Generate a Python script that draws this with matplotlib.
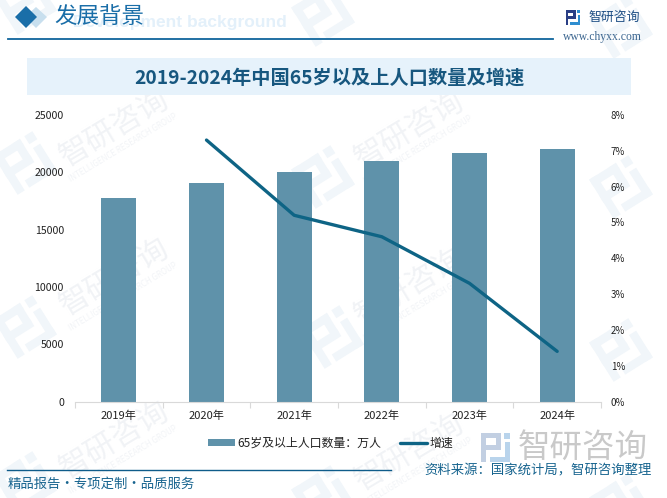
import matplotlib
matplotlib.use("Agg")
import matplotlib.pyplot as plt
from matplotlib.patches import Rectangle, Polygon
from matplotlib.transforms import Affine2D

plt.rcParams['font.family'] = ['Noto Sans CJK SC', 'DejaVu Sans']

years = ['2019年', '2020年', '2021年', '2022年', '2023年', '2024年']
population = [17767, 19064, 20056, 20978, 21676, 22023]
growth_years = [1, 2, 3, 4, 5]
growth = [7.3, 5.2, 4.6, 3.3, 1.4]
left_ticks = [0, 5000, 10000, 15000, 20000, 25000]
right_ticks = [0, 1, 2, 3, 4, 5, 6, 7, 8]
title = '2019-2024年中国65岁以及上人口数量及增速'

W, H = 667, 498
fig = plt.figure(figsize=(W/100, H/100), dpi=100, facecolor='white')
bg = fig.add_axes([0, 0, 1, 1], zorder=0)
bg.set_xlim(0, W); bg.set_ylim(H, 0); bg.axis('off')

def logo(cx, cy, s=1.0, c1='#f1f6fa', c2=None, angle=-32, z=1):
    c2 = c2 or c1
    tr = Affine2D().scale(s).rotate_deg(angle).translate(cx, cy) + bg.transData
    for x, y, w, h in [(-22, -22, 30, 8), (-22, -22, 8, 44), (0, -22, 8, 22), (-22, -4, 30, 8)]:
        bg.add_patch(Rectangle((x, y), w, h, transform=tr, color=c1, lw=0, zorder=z))
    for x, y, w, h in [(13, -22, 9, 9), (14, -8, 8, 30), (-9, 14, 31, 8)]:
        bg.add_patch(Rectangle((x, y), w, h, transform=tr, color=c2, lw=0, zorder=z))

def mark(cx, cy):
    bg.text(cx, cy, '智研咨询', fontsize=22, color='#f1f3f6', rotation=31,
            ha='center', va='center', rotation_mode='anchor', zorder=1)
    bg.text(cx + 8, cy + 20, 'INTELLIGENCE RESEARCH GROUP', fontsize=5.8, color='#f2f4f7',
            rotation=31, ha='center', va='center', rotation_mode='anchor', zorder=1)

for c in [(115, 128), (410, 130), (115, 277), (410, 287), (115, 440), (410, 452)]:
    mark(*c)
for c in [(25, 3), (323, 15), (621, 27), (25, 163), (323, 177), (621, 187),
          (25, 327), (332, 337), (621, 350), (25, 483), (323, 497), (621, 505)]:
    logo(*c, s=1.05)

# header
bg.add_patch(Polygon([(36, 7), (47, 17), (36, 28), (25, 17)], color='#c8dfee', lw=0, zorder=2))
bg.add_patch(Polygon([(26, 6), (37, 17), (26, 28), (15, 17)], color='#1a6ea8', lw=0, zorder=3))
bg.text(287, 22.5, 'Development background', fontsize=12.5, fontweight='bold', color='#e3f0fa',
        ha='right', va='center', family='Liberation Sans', zorder=2)
bg.text(54, 17, '发展背景', fontsize=16.2, color='#1a6ea8', ha='left', va='center', zorder=3)
bg.plot([8, 553], [38.5, 38.5], color='#0f659c', lw=1.3, zorder=3)
logo(573, 17.5, 0.34, '#2a3f85', '#2f8ed0', 0, 3)
bg.text(588, 17, '智研咨询', fontsize=9.3, color='#1f4f85', ha='left', va='center', zorder=3)
bg.text(563, 37, 'www.chyxx.com', fontsize=8.4, color='#3c6690', ha='left', va='center',
        family='Liberation Serif', zorder=3)

# title band
bg.add_patch(Rectangle((27, 58), 604, 37, color='#e6f2fb', lw=0, zorder=2))
bg.text(329, 78, title, fontsize=13.85, fontweight='bold', color='#17577f',
        ha='center', va='center', zorder=3)

# footer
bg.plot([7, 391], [469.5, 469.5], color='#0f5c8a', lw=1, zorder=3)
logo(495.5, 447.5, 0.66, '#c2cfe2', '#b9d4ec', 0, 2)
bg.text(518, 448, '智研咨询', fontsize=23.4, color='#c9c9c9', ha='left', va='center', zorder=2)
bg.text(8, 484, '精品报告·专项定制·品质服务', fontsize=9.6, color='#17648f',
        ha='left', va='center', zorder=3)
bg.text(424, 470, '资料来源：国家统计局，智研咨询整理', fontsize=9.6, color='#17648f',
        ha='left', va='center', zorder=3)

# chart
ax = fig.add_axes([75/W, 1 - 401.5/H, 526/W, 286.5/H], zorder=4)
ax.patch.set_alpha(0)
xs = list(range(len(years)))
bars = ax.bar(xs, population, width=0.40, color='#5f92aa', label='65岁及以上人口数量：万人')
ax.set_xlim(-0.5, 5.5)
ax.set_ylim(0, 25000)
ax.set_xticks([i - 0.5 for i in range(7)])
ax.set_xticklabels([])
ax.set_xticks(xs, minor=True)
ax.set_xticklabels(years, minor=True, fontsize=8, color='#222222')
ax.tick_params(axis='x', which='major', length=4, color='#d9d9d9', direction='out')
ax.tick_params(axis='x', which='minor', length=0, pad=6.5)
ax.set_yticks(left_ticks)
ax.set_yticklabels([str(v) for v in left_ticks], fontsize=7.6, color='#222222')
ax.tick_params(axis='y', length=0, pad=8)
for s in ['top', 'left', 'right']:
    ax.spines[s].set_visible(False)
ax.spines['bottom'].set_color('#d9d9d9')

ax2 = ax.twinx()
ax2.patch.set_alpha(0)
line, = ax2.plot(growth_years, growth, color='#0e6485', lw=2.4, label='增速', solid_capstyle='round')
ax2.set_ylim(0, 8)
ax2.set_yticks(right_ticks)
ax2.set_yticklabels([f'{v}%' for v in right_ticks], fontsize=7, color='#222222')
ax2.tick_params(axis='y', length=0, pad=7)
for s in ['top', 'left', 'right', 'bottom']:
    ax2.spines[s].set_visible(False)

fig.legend([bars, line], ['65岁及以上人口数量：万人', '增速'], loc='center',
           bbox_to_anchor=(330.5/W, 1 - 443/H), ncol=2, frameon=False, fontsize=8.6,
           handlelength=2.25, handleheight=0.5, columnspacing=1.6, handletextpad=0.2,
           labelcolor='#222222')

fig.savefig('out.png', dpi=100)
